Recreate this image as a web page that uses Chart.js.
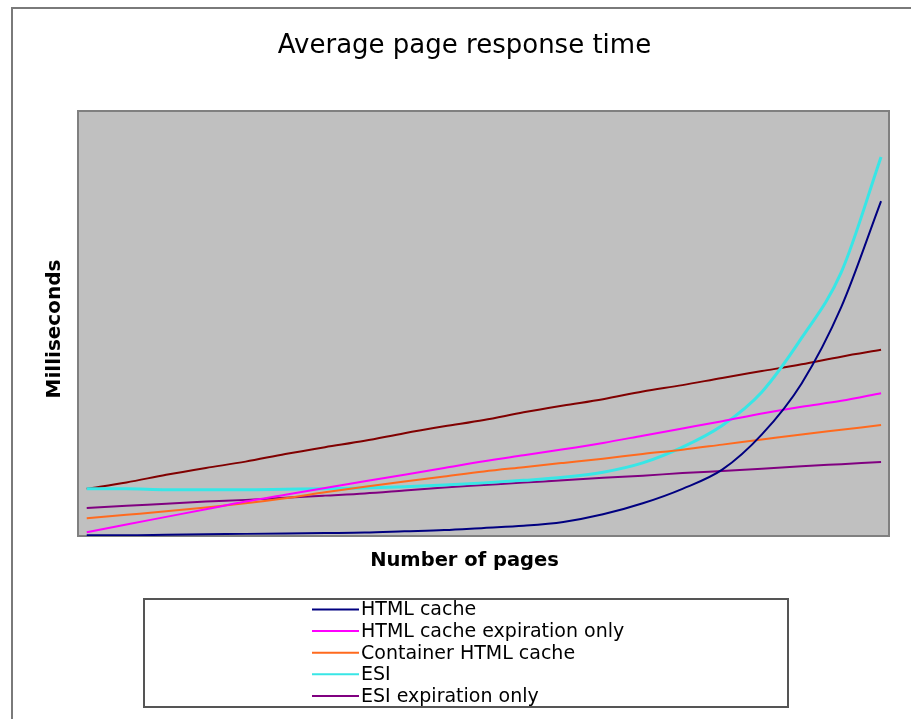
<!DOCTYPE html>
<html>
<head>
<meta charset="utf-8">
<title>Average page response time</title>
<script src="https://cdn.jsdelivr.net/npm/chart.js@4/dist/chart.umd.min.js"></script>
<style>
  html, body { margin: 0; padding: 0; background: #ffffff; }
  #wrap { width: 911px; height: 719px; }
</style>
</head>
<body>
<div id="wrap"><canvas id="chart" width="911" height="719"></canvas></div>
<script>
// Number of pages requested (x positions of the samples)
const pageCounts = [0, 50, 100, 150, 200, 250, 300, 350, 400, 450, 500,
                    550, 600, 650, 700, 750, 800, 850, 900, 950, 1000];

// Average response time per caching strategy
const htmlCache = [0.2, 0.2, 0.3, 0.4, 0.5, 0.6, 0.7, 0.8, 1.1, 1.4, 1.9,
                   2.4, 3.3, 5.1, 7.7, 11.1, 15.6, 23.9, 35.9, 53.9, 78.8];
const htmlCacheExpirationOnly = [0.9, 2.7, 4.5, 6.3, 8.1, 9.7, 11.3, 12.9, 14.4, 16.0, 17.6,
                                 19.0, 20.4, 21.9, 23.6, 25.3, 27.0, 28.8, 30.4, 31.8, 33.6];
const containerHtmlCache = [4.2, 5.0, 5.8, 6.7, 7.7, 8.9, 10.3, 11.6, 12.8, 14.0, 15.2,
                            16.2, 17.2, 18.2, 19.3, 20.3, 21.5, 22.7, 23.9, 25.0, 26.1];
const esi = [11.1, 11.1, 10.9, 10.9, 10.9, 11.0, 11.1, 11.3, 11.6, 12.0, 12.5,
             13.1, 13.8, 15.0, 17.2, 20.9, 26.0, 33.9, 46.6, 62.1, 89.2];
const esiExpirationOnly = [6.6, 7.1, 7.6, 8.1, 8.5, 9.0, 9.5, 10.0, 10.7, 11.4, 12.0,
                           12.6, 13.1, 13.7, 14.2, 14.8, 15.3, 15.8, 16.4, 16.9, 17.4];
// Series plotted without a legend entry
const noCache = [11.1, 12.6, 14.4, 16.0, 17.5, 19.3, 20.9, 22.4, 24.2, 25.8, 27.3,
                 29.1, 30.7, 32.2, 34.0, 35.5, 37.2, 38.8, 40.4, 42.2, 43.8];

const seriesLabels = ['HTML cache', 'HTML cache expiration only', 'Container HTML cache',
                      'ESI', 'ESI expiration only', ''];

const toPoints = values => values.map((v, i) => ({ x: pageCounts[i], y: v }));

function lineSet(label, values, color, width) {
  return {
    label: label,
    data: toPoints(values),
    borderColor: color,
    backgroundColor: color,
    borderWidth: width,
    pointRadius: 0,
    pointHoverRadius: 0,
    fill: false,
    cubicInterpolationMode: 'monotone'
  };
}

// Frame, plot background, value-axis title and the boxed legend
const decorations = {
  id: 'decorations',
  beforeDraw(chart) {
    const ctx = chart.ctx;
    const a = chart.chartArea;
    ctx.save();
    ctx.fillStyle = '#ffffff';
    ctx.fillRect(0, 0, chart.width, chart.height);
    ctx.strokeStyle = '#7a7a7a';
    ctx.lineWidth = 2;
    ctx.strokeRect(12, 8, chart.width + 20, chart.height + 20);
    ctx.fillStyle = '#c0c0c0';
    ctx.fillRect(a.left, a.top, a.right - a.left, a.bottom - a.top);
    ctx.strokeStyle = '#808080';
    ctx.lineWidth = 2;
    ctx.strokeRect(a.left, a.top, a.right - a.left, a.bottom - a.top);
    ctx.restore();
  },
  afterDraw(chart) {
    const ctx = chart.ctx;
    ctx.save();
    // value-axis title, reading bottom to top
    ctx.translate(55, 329);
    ctx.rotate(-Math.PI / 2);
    ctx.font = 'bold 20px "DejaVu Sans"';
    ctx.fillStyle = '#000000';
    ctx.textAlign = 'center';
    ctx.textBaseline = 'middle';
    ctx.fillText('Milliseconds', 0, 0);
    ctx.restore();

    ctx.save();
    ctx.strokeStyle = '#555555';
    ctx.lineWidth = 2;
    ctx.strokeRect(144, 599, 644, 108);
    ctx.font = '19px "DejaVu Sans"';
    ctx.fillStyle = '#000000';
    ctx.textBaseline = 'middle';
    ctx.textAlign = 'left';
    let row = 0;
    chart.data.datasets.forEach(ds => {
      if (!ds.label) return;
      const y = 609.5 + row * 21.6;
      ctx.strokeStyle = ds.borderColor;
      ctx.lineWidth = 2;
      ctx.beginPath();
      ctx.moveTo(312, y);
      ctx.lineTo(359, y);
      ctx.stroke();
      ctx.fillText(ds.label, 361, y + 1);
      row++;
    });
    ctx.restore();
  }
};

new Chart(document.getElementById('chart'), {
  type: 'line',
  data: {
    datasets: [
      lineSet(seriesLabels[0], htmlCache, '#000080', 2),
      lineSet(seriesLabels[1], htmlCacheExpirationOnly, '#ff00ff', 2),
      lineSet(seriesLabels[2], containerHtmlCache, '#ff6a1e', 2),
      lineSet(seriesLabels[3], esi, '#38e6e6', 3),
      lineSet(seriesLabels[4], esiExpirationOnly, '#800080', 2),
      lineSet(seriesLabels[5], noCache, '#800000', 2)
    ]
  },
  options: {
    responsive: false,
    animation: false,
    devicePixelRatio: 1,
    layout: { padding: { top: 31, left: 40, right: 22, bottom: 146.3 } },
    plugins: {
      legend: { display: false },
      tooltip: { enabled: false },
      title: {
        display: true,
        text: 'Average page response time',
        color: '#000000',
        font: { family: 'DejaVu Sans', size: 26, weight: 'normal', lineHeight: 1.2 },
        padding: { top: 0, bottom: 48.8 }
      },
      subtitle: {
        display: true,
        position: 'bottom',
        text: 'Number of pages',
        color: '#000000',
        font: { family: 'DejaVu Sans', size: 19.5, weight: 'bold', lineHeight: 1.2 },
        padding: { top: 13.3, bottom: 0 }
      }
    },
    scales: {
      x: {
        type: 'linear',
        display: false,
        min: -11,
        max: 1010
      },
      y: {
        type: 'linear',
        display: true,
        min: 0,
        max: 100,
        grid: { display: false, drawTicks: false },
        border: { display: false },
        ticks: { display: false },
        title: { display: false },
        afterFit(scale) { scale.width = 38; }
      }
    }
  },
  plugins: [decorations]
});
</script>
</body>
</html>
